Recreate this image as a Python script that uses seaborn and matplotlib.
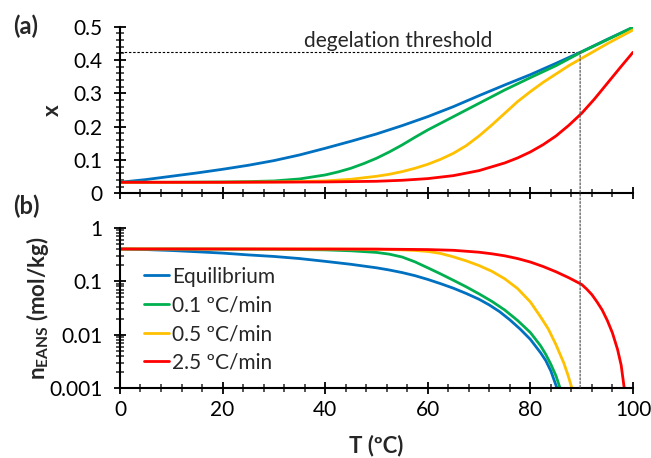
import matplotlib
matplotlib.use("Agg")
import matplotlib.pyplot as plt
from matplotlib.ticker import MultipleLocator, LogLocator, NullFormatter, FuncFormatter
from matplotlib.patches import ConnectionPatch
import seaborn as sns
import pandas as pd

# ---- data -------------------------------------------------------------
series_names = ["Equilibrium", "0.1 ºC/min", "0.5 ºC/min", "2.5 ºC/min"]
series_colors = ["#0070C0", "#00B050", "#FFC000", "#FF0000"]

# (a) gel fraction x versus temperature
T_eq_x = [0, 5, 10, 15, 20, 25, 30, 35, 40, 45, 50, 55, 60, 65, 70, 75, 80, 85, 90, 95, 100]
x_eq = [0.033, 0.041, 0.051, 0.061, 0.072, 0.084, 0.098, 0.115, 0.135, 0.156, 0.178,
        0.203, 0.230, 0.260, 0.293, 0.325, 0.356, 0.390, 0.425, 0.462, 0.498]

T_01_x = [0, 10, 20, 25, 30, 35, 40, 42.5, 45, 47.5, 50, 52.5, 55, 57.5, 60, 62.5, 65,
          67.5, 70, 75, 80, 85, 90, 95, 100]
x_01 = [0.033, 0.033, 0.034, 0.035, 0.037, 0.043, 0.055, 0.064, 0.075, 0.089, 0.105,
        0.124, 0.145, 0.168, 0.190, 0.210, 0.230, 0.250, 0.270, 0.310, 0.347, 0.383,
        0.424, 0.461, 0.498]

T_05_x = [0, 20, 30, 35, 40, 45, 50, 52.5, 55, 57.5, 60, 62.5, 65, 67.5, 70, 72.5, 75,
          77.5, 80, 82.5, 85, 87.5, 90, 95, 100]
x_05 = [0.033, 0.033, 0.034, 0.035, 0.037, 0.042, 0.051, 0.057, 0.065, 0.075, 0.087,
        0.102, 0.120, 0.143, 0.172, 0.205, 0.240, 0.275, 0.305, 0.333, 0.358, 0.383,
        0.405, 0.449, 0.490]

T_25_x = [0, 20, 40, 50, 55, 60, 65, 70, 75, 77.5, 80, 82.5, 85, 87.5, 90, 92.5, 95,
          97.5, 100]
x_25 = [0.033, 0.033, 0.034, 0.036, 0.039, 0.044, 0.053, 0.068, 0.091, 0.106, 0.124,
        0.146, 0.172, 0.204, 0.240, 0.283, 0.330, 0.377, 0.423]

# (b) EANS content versus temperature
T_eq_n = [0, 5, 10, 15, 20, 25, 30, 35, 40, 45, 50, 52.5, 55, 57.5, 60, 62.5, 65, 67.5,
          70, 72, 74, 76, 78, 80, 82, 83, 84, 85.2]
n_eq = [0.40, 0.39, 0.375, 0.355, 0.335, 0.31, 0.29, 0.265, 0.235, 0.207, 0.178, 0.162,
        0.145, 0.127, 0.108, 0.090, 0.074, 0.059, 0.046, 0.036, 0.027, 0.0190, 0.0128,
        0.0082, 0.0046, 0.0033, 0.0021, 0.001]

T_01_n = [0, 10, 20, 30, 40, 45, 50, 52.5, 55, 57.5, 60, 62.5, 65, 67.5, 70, 72.5, 75,
          77.5, 80, 82, 83, 84, 85, 85.8]
n_01 = [0.40, 0.40, 0.398, 0.394, 0.385, 0.37, 0.345, 0.32, 0.283, 0.23, 0.178, 0.137,
        0.104, 0.0785, 0.058, 0.042, 0.029, 0.0185, 0.011, 0.0062, 0.0043, 0.0028, 0.0017,
        0.001]

T_05_n = [0, 20, 40, 50, 55, 57.5, 60, 62.5, 65, 67.5, 70, 72.5, 75, 77.5, 80, 82, 83.5,
          85, 85.8, 86.5, 87.3, 88.1]
n_05 = [0.40, 0.40, 0.399, 0.395, 0.385, 0.375, 0.36, 0.33, 0.285, 0.24, 0.196, 0.153,
        0.111, 0.073, 0.041, 0.0215, 0.0128, 0.0065, 0.0043, 0.0030, 0.0018, 0.001]

T_25_n = [0, 30, 50, 60, 65, 70, 72.5, 75, 77.5, 80, 82.5, 85, 87.5, 90, 91, 92, 93, 94,
          95, 96, 97, 97.7, 98.3]
n_25 = [0.40, 0.40, 0.398, 0.39, 0.378, 0.348, 0.325, 0.298, 0.265, 0.228, 0.188, 0.150,
        0.116, 0.087, 0.071, 0.056, 0.041, 0.029, 0.0185, 0.0108, 0.0053, 0.0027, 0.001]

# degelation threshold
T_threshold = 89.7
x_threshold = 0.425


def long_frame(pairs, value_name):
    parts = []
    for name, (t, v) in zip(series_names, pairs):
        parts.append(pd.DataFrame({"T": t, value_name: v, "series": name}))
    return pd.concat(parts, ignore_index=True)


df_x = long_frame([(T_eq_x, x_eq), (T_01_x, x_01), (T_05_x, x_05), (T_25_x, x_25)], "x")
df_n = long_frame([(T_eq_n, n_eq), (T_01_n, n_01), (T_05_n, n_05), (T_25_n, n_25)], "n")

# ---- style ------------------------------------------------------------
sns.set_theme(style="ticks")
plt.rcParams["font.family"] = ["Lato", "DejaVu Sans"]
plt.rcParams["mathtext.fontset"] = "custom"
plt.rcParams["mathtext.rm"] = "Lato"
plt.rcParams["mathtext.bf"] = "Lato:bold"
plt.rcParams["axes.linewidth"] = 1.5
FS = 15

fig = plt.figure(figsize=(6.51, 4.58), dpi=100)
ax_top = fig.add_axes([0.1843, 0.578, 0.788, 0.3638])
ax_bot = fig.add_axes([0.1843, 0.1522, 0.788, 0.3507])

palette = dict(zip(series_names, series_colors))

sns.lineplot(data=df_x, x="T", y="x", hue="series", hue_order=series_names,
             palette=palette, linewidth=2.0, errorbar=None, sort=True,
             legend=False, ax=ax_top)
sns.lineplot(data=df_n, x="T", y="n", hue="series", hue_order=series_names,
             palette=palette, linewidth=2.0, errorbar=None, sort=True,
             legend=False, ax=ax_bot)

for ax in (ax_top, ax_bot):
    sns.despine(ax=ax)
    ax.set_xlim(0, 100)
    ax.xaxis.set_major_locator(MultipleLocator(20))
    ax.xaxis.set_minor_locator(MultipleLocator(4))
    ax.tick_params(which="major", direction="inout", length=9, width=1.3,
                   labelsize=FS, colors="black")
    ax.tick_params(which="minor", direction="inout", length=6, width=1.1)
    ax.tick_params(axis="y", which="major", pad=8)
    ax.tick_params(axis="x", which="major", pad=4)
    for sp in ax.spines.values():
        sp.set_color("black")

# (a)
ax_top.set_ylim(0, 0.5)
ax_top.yaxis.set_major_locator(MultipleLocator(0.1))
ax_top.yaxis.set_minor_locator(MultipleLocator(0.02))
ax_top.yaxis.set_major_formatter(FuncFormatter(lambda v, p: f"{v:g}"))
ax_top.tick_params(axis="x", labelbottom=False)
ax_top.set_xlabel("")
ax_top.set_ylabel("x", fontsize=FS + 1, fontweight="bold")
ax_top.yaxis.set_label_coords(-0.112, 0.5)

ax_top.plot([0, T_threshold], [x_threshold, x_threshold], color="black",
            linestyle=(0, (2.2, 1.6)), linewidth=0.8, zorder=1)
ax_top.text(54.3, 0.44, "degelation threshold", ha="center", va="baseline",
            fontsize=FS)

# (b)
ax_bot.set_yscale("log")
ax_bot.set_ylim(0.001, 1)
ax_bot.yaxis.set_major_locator(LogLocator(base=10))
ax_bot.yaxis.set_minor_locator(LogLocator(base=10, subs=range(2, 10)))
ax_bot.yaxis.set_minor_formatter(NullFormatter())
ax_bot.yaxis.set_major_formatter(FuncFormatter(lambda v, p: f"{v:g}"))
ax_bot.set_xlabel("T (ºC)", fontsize=FS + 1, fontweight="bold")
ax_bot.xaxis.set_label_coords(0.5, -0.29)
ax_bot.set_ylabel(r"$\mathbf{n_{EANS}}$ (mol/kg)", fontsize=FS + 1, fontweight="bold")
ax_bot.yaxis.set_label_coords(-0.135, 0.5)

handles = ax_bot.get_lines()[:4]
ax_bot.legend(handles, series_names, loc="upper left", bbox_to_anchor=(0.03, 0.81),
              frameon=False, fontsize=FS, handlelength=1.2, handletextpad=0.15,
              labelspacing=0.42, borderaxespad=0.0)

# threshold marker crossing both panels
con = ConnectionPatch(xyA=(T_threshold, x_threshold), coordsA=ax_top.transData,
                      xyB=(T_threshold, 0.001), coordsB=ax_bot.transData,
                      color="0.35", linestyle=(0, (1.5, 1.5)), linewidth=0.9)
fig.add_artist(con)

fig.text(0.02, 0.943, "(a)", fontsize=FS + 2, fontweight="bold", ha="left", va="center")
fig.text(0.02, 0.55, "(b)", fontsize=FS + 2, fontweight="bold", ha="left", va="center")

fig.savefig("out.png", dpi=100)
